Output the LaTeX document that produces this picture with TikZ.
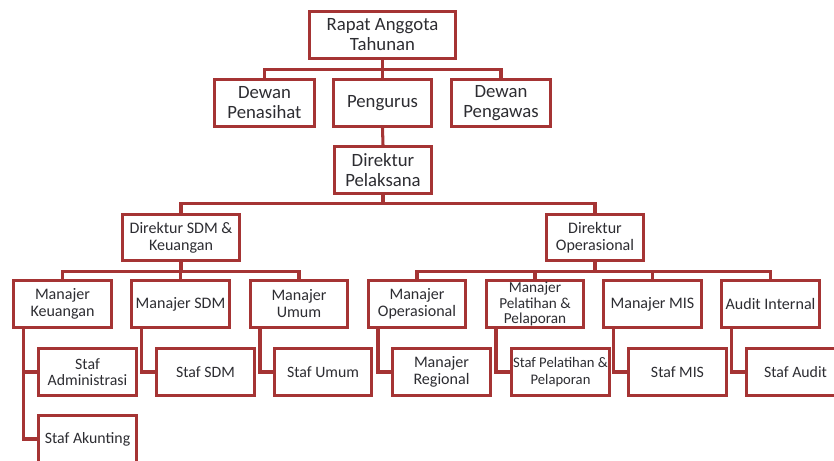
\documentclass[tikz,border=0pt]{standalone}
\usepackage{fontspec}
\setmainfont{Carlito}
\usepackage{xcolor}
\usepackage{tikz}

\definecolor{boxred}{RGB}{165,52,52}
\definecolor{txtgray}{RGB}{45,45,50}

\tikzset{
  orgbox/.style={draw=boxred, line width=2.3pt, fill=white, text=txtgray,
    align=center, inner sep=0pt, minimum width=2.92cm, minimum height=1.4cm},
  topbox/.style={orgbox, font=\fontsize{16}{17}\selectfont},
  midbox/.style={orgbox, font=\fontsize{13.7}{14.5}\selectfont},
  stafbox/.style={orgbox, font=\fontsize{13.5}{14.2}\selectfont},
  conn/.style={draw=boxred, line width=2.6pt}
}

\begin{document}
\begin{tikzpicture}[x=0.03cm, y=-0.03cm]
        % Page frame, same size as the reference
        \useasboundingbox (0,0) rectangle (834,461);
        \clip (0,0) rectangle (834,461);

        % Top levels
        \node[topbox, minimum width=4.4cm] (rat) at (382.5,35) {Rapat Anggota\\Tahunan};
        \node[topbox, minimum width=3cm] (dpn) at (264.5,103) {Dewan\\Penasihat};
        \node[topbox] (pgr) at (382.5,103) {Pengurus};
        \node[topbox, minimum width=2.95cm] (dpw) at (501,103) {Dewan\\Pengawas};
        \node[topbox] (dpl) at (383,170) {Direktur\\Pelaksana};

        % Directors
        \node[midbox, minimum width=3.5cm] (dsk) at (181,237.5) {Direktur SDM \&\\Keuangan};
        \node[midbox] (dop) at (595,237.5) {Direktur\\Operasional};

        % Managers
        \node[midbox] (mk) at (62.5,304) {Manajer\\Keuangan};
        \node[midbox] (msdm) at (180.5,304) {Manajer SDM};
        \node[midbox] (mum) at (299,304) {Manajer\\Umum};
        \node[midbox] (mop) at (417,304) {Manajer\\Operasional};
        \node[midbox, font=\fontsize{13}{13.6}\selectfont] (mpp) at (535,304) {Manajer\\Pelatihan \&\\Pelaporan};
        \node[midbox] (mmis) at (652.5,304) {Manajer MIS};
        \node[midbox] (ai) at (770.5,304) {Audit Internal};

        % Staff
        \node[stafbox] (sa) at (87.5,372) {Staf\\Administrasi};
        \node[stafbox] (sak) at (87.5,439) {Staf Akunting};
        \node[stafbox] (ssdm) at (205.5,372) {Staf SDM};
        \node[stafbox] (sum) at (323,372) {Staf Umum};
        \node[midbox] (mr) at (441.5,372) {Manajer\\Regional};
        \node[stafbox, font=\fontsize{12.5}{14}\selectfont] (spp) at (560.5,372) {Staf Pelatihan \&\\Pelaporan};
        \node[stafbox] (smis) at (677.5,372) {Staf MIS};
        \node[stafbox] (sau) at (795.5,372) {Staf Audit};

        % Tree connectors
        \foreach \c in {dpn,pgr,dpw}
          \draw[conn] (rat.south) -- ++(0,-0.3cm) -| (\c.north);
        \draw[conn] (pgr.south) -- (dpl.north);
        \foreach \c in {dsk,dop}
          \draw[conn] (dpl.south) -- ++(0,-0.27cm) -| (\c.north);
        \foreach \c in {mk,msdm,mum}
          \draw[conn] (dsk.south) -- ++(0,-0.27cm) -| (\c.north);
        \foreach \c in {mop,mpp,mmis,ai}
          \draw[conn] (dop.south) -- ++(0,-0.27cm) -| (\c.north);

        % Staff connectors
        \draw[conn] ([xshift=0.33cm]mk.south west) |- (sa.west);
        \draw[conn] ([xshift=0.33cm]mk.south west) |- (sak.west);
        \draw[conn] ([xshift=0.33cm]msdm.south west) |- (ssdm.west);
        \draw[conn] ([xshift=0.33cm]mum.south west) |- (sum.west);
        \draw[conn] ([xshift=0.33cm]mop.south west) |- (mr.west);
        \draw[conn] ([xshift=0.33cm]mpp.south west) |- (spp.west);
        \draw[conn] ([xshift=0.33cm]mmis.south west) |- (smis.west);
        \draw[conn] ([xshift=0.33cm]ai.south west) |- (sau.west);
\end{tikzpicture}
\end{document}
